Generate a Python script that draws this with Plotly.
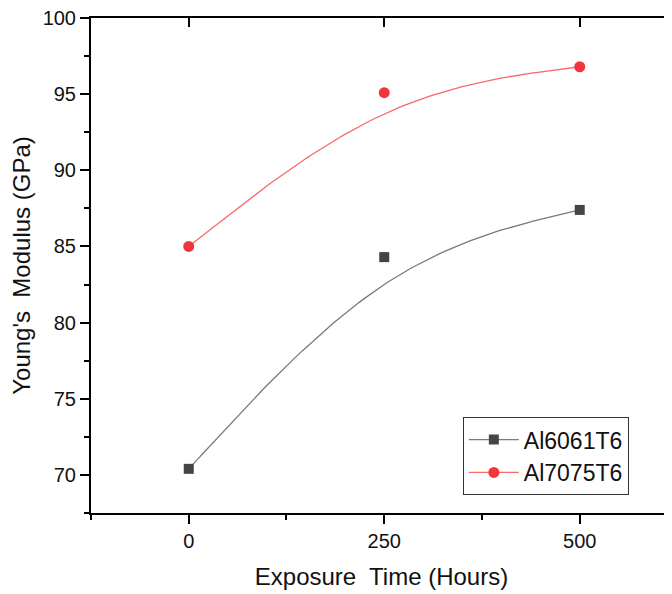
import numpy as np
import plotly.graph_objects as go

# ---- data ----
time_h = [0, 250, 500]
al6061 = [70.4, 84.3, 87.4]
al7075 = [85.0, 95.1, 96.8]
series_names = ["Al6061T6", "Al7075T6"]
x_tick_vals = [0, 250, 500]
y_tick_vals = [70, 75, 80, 85, 90, 95, 100]

FONT = "Arial, 'Liberation Sans', sans-serif"
BLACK_MK = "#454545"
BLACK_LN = "#7a7a7a"
RED_MK = "#f0363c"
RED_LN = "#f66a6a"


def bspline(xs, ys, n=40):
    """Uniform cubic B-spline with clamped ends, data points as control points."""
    px = [xs[0]] * 2 + list(xs) + [xs[-1]] * 2
    py = [ys[0]] * 2 + list(ys) + [ys[-1]] * 2
    t = np.linspace(0, 1, n)
    b0 = (1 - t) ** 3 / 6
    b1 = (3 * t ** 3 - 6 * t ** 2 + 4) / 6
    b2 = (-3 * t ** 3 + 3 * t ** 2 + 3 * t + 1) / 6
    b3 = t ** 3 / 6
    cx, cy = [], []
    for i in range(len(px) - 3):
        qx, qy = px[i:i + 4], py[i:i + 4]
        cx.extend(b0 * qx[0] + b1 * qx[1] + b2 * qx[2] + b3 * qx[3])
        cy.extend(b0 * qy[0] + b1 * qy[1] + b2 * qy[2] + b3 * qy[3])
    return cx, cy


fig = go.Figure()

styles = [
    (al6061, series_names[0], BLACK_MK, BLACK_LN, "square", 10),
    (al7075, series_names[1], RED_MK, RED_LN, "circle", 11),
]

for ys, name, mc, lc, sym, sz in styles:
    cx, cy = bspline(time_h, ys)
    fig.add_trace(go.Scatter(x=cx, y=cy, mode="lines",
                             line=dict(color=lc, width=1.3),
                             showlegend=False, hoverinfo="skip"))
    fig.add_trace(go.Scatter(x=time_h, y=ys, mode="markers",
                             marker=dict(symbol=sym, size=sz, color=mc),
                             showlegend=False))
    # legend entry (line + marker sample)
    fig.add_trace(go.Scatter(x=[None], y=[None], mode="lines+markers", name=name,
                             line=dict(color=lc, width=1.3),
                             marker=dict(symbol=sym, size=sz, color=mc)))

# invisible trace to carry the top (inside-tick) axis
fig.add_trace(go.Scatter(x=time_h, y=al6061, xaxis="x2", mode="markers",
                         marker=dict(opacity=0), showlegend=False, hoverinfo="skip"))

XR = [-125, 618]

# the page has an 8px body margin, so the figure is sized/margined to compensate
fig.update_layout(
    width=664, height=586,
    margin=dict(l=83, r=0, t=10, b=81, autoexpand=False),
    plot_bgcolor="white", paper_bgcolor="white",
    font=dict(family=FONT, color="#111111"),
    xaxis=dict(
        range=XR, tickvals=x_tick_vals, ticks="outside", ticklen=9, tickwidth=1.5,
        tickcolor="black", showline=True, linecolor="black", linewidth=2, mirror=True,
        showgrid=False, zeroline=False, tickfont=dict(size=20), automargin=False,
        ticklabeloverflow="allow",
        minor=dict(dtick=125, tick0=-125, ticks="outside", ticklen=5, tickwidth=1.5,
                   tickcolor="black", showgrid=False),
        title=dict(text="Exposure\u00a0 Time (Hours)", font=dict(size=24), standoff=17),
    ),
    xaxis2=dict(
        range=XR, overlaying="x", side="top", anchor="y", tickvals=x_tick_vals,
        ticks="inside", ticklen=9, tickwidth=1.5, tickcolor="black", automargin=False,
        showticklabels=False, showline=False, showgrid=False, zeroline=False,
    ),
    yaxis=dict(
        range=[67.5, 100], tickvals=y_tick_vals, ticks="outside", ticklen=9, tickwidth=1.5,
        tickcolor="black", showline=True, linecolor="black", linewidth=2,
        showgrid=False, zeroline=False, tickfont=dict(size=20), automargin=False,
        ticklabeloverflow="allow",
        minor=dict(dtick=2.5, tick0=0, ticks="outside", ticklen=5, tickwidth=1.5,
                   tickcolor="black", showgrid=False),
        title=dict(text="Young's\u00a0 Modulus (GPa)", font=dict(size=24), standoff=8),
    ),
    legend=dict(
        x=0.640, y=0.115, xanchor="left", yanchor="middle",
        bgcolor="white", bordercolor="#333333", borderwidth=1,
        font=dict(size=23, family=FONT, color="#111111"),
        tracegroupgap=0, itemsizing="trace", itemwidth=50,
    ),
    showlegend=True,
)

fig.write_html("out.html")
